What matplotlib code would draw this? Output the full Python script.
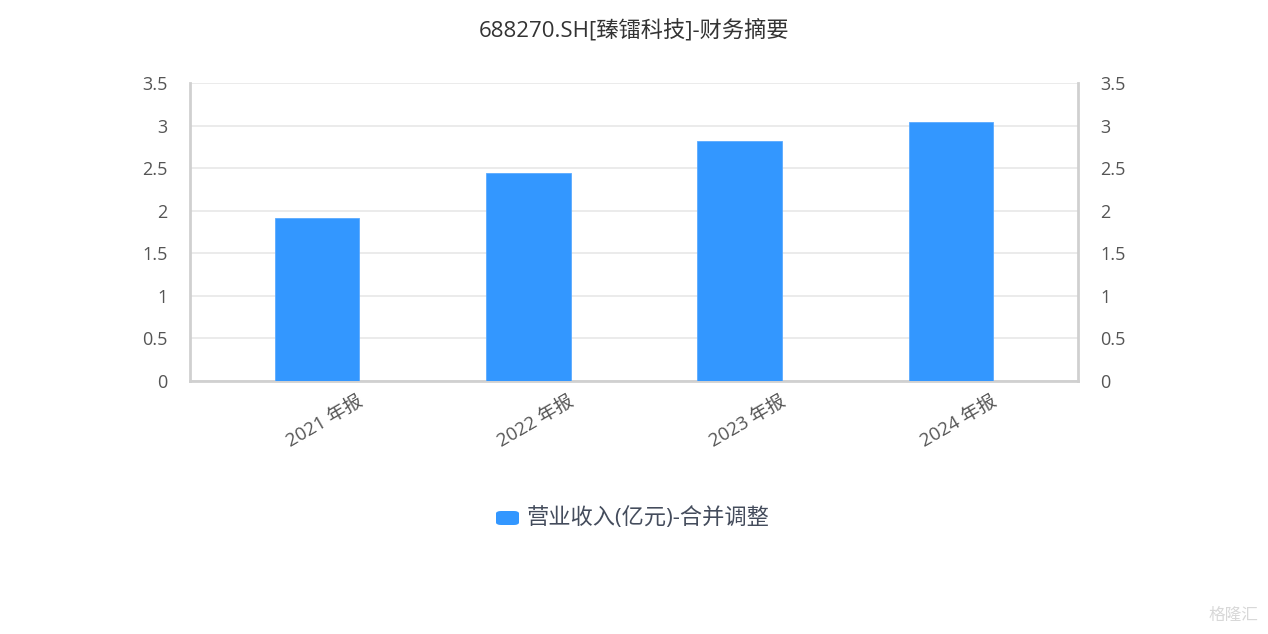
import matplotlib
matplotlib.use('Agg')
import matplotlib.pyplot as plt
import matplotlib.transforms as mtrans
from matplotlib.patches import FancyBboxPatch

plt.rcParams['font.family'] = ['Open Sans', 'Noto Sans CJK SC', 'DejaVu Sans']

# 数据
periods = ['2021 年报', '2022 年报', '2023 年报', '2024 年报']
revenue = [1.92, 2.44, 2.82, 3.04]
yticks = [0, 0.5, 1, 1.5, 2, 2.5, 3, 3.5]
ytick_labels = ['0', '0.5', '1', '1.5', '2', '2.5', '3', '3.5']
series_name = '营业收入(亿元)-合并调整'

bar_color = '#3397ff'
text_color = '#555555'
axis_color = '#d0d0d0'
grid_color = '#e8e8e8'

fig = plt.figure(figsize=(12.68, 6.34), dpi=100)
ax = fig.add_axes([190 / 1268, 1 - 381 / 634, 888 / 1268, 298 / 634])

x = list(range(len(periods)))
bars = ax.bar(x, revenue, width=0.4, color=bar_color, edgecolor='#5aaaff',
              linewidth=0.6, zorder=3)

ax.set_xlim(-0.6, len(periods) - 0.4)
ax.set_ylim(0, 3.5)
ax.set_yticks(yticks)
ax.set_yticklabels(ytick_labels)
ax.set_xticks(x)
ax.set_xticklabels(periods, rotation=30, ha='right', rotation_mode='anchor')
ax.tick_params(axis='both', length=0, labelsize=13, colors=text_color)
ax.tick_params(axis='y', pad=16)
ax.tick_params(axis='x', labelsize=13.5, pad=8)

ax.grid(axis='y', color=grid_color, linewidth=1.2, zorder=0)
ax.set_axisbelow(True)

ax.spines['top'].set_visible(False)
for side in ['left', 'right', 'bottom']:
    ax.spines[side].set_color(axis_color)
    ax.spines[side].set_linewidth(2)

# 右侧坐标轴
ax2 = ax.twinx()
ax2.set_ylim(0, 3.5)
ax2.set_yticks(yticks)
ax2.set_yticklabels(ytick_labels)
ax2.tick_params(axis='y', length=0, labelsize=13, colors=text_color, pad=16)
for side in ['top', 'left', 'bottom', 'right']:
    ax2.spines[side].set_visible(False)

# x标签往右挪，末端大约对准柱子右边
offset = mtrans.ScaledTranslation(0.40, 0, fig.dpi_scale_trans)
for lbl in ax.get_xticklabels():
    lbl.set_transform(lbl.get_transform() + offset)

fig.text(0.5, 1 - 30 / 634, '688270.SH[臻镭科技]-财务摘要', ha='center', va='center',
         fontsize=16, color='#333333')

# 图例：圆角色块 + 文字
leg_y = 1 - 518 / 634
fig.patches.append(FancyBboxPatch((496 / 1268, leg_y - 7 / 634), 23 / 1268, 14 / 634,
                                  boxstyle='round,pad=0,rounding_size=0.004',
                                  transform=fig.transFigure, facecolor=bar_color,
                                  edgecolor='none'))
fig.text(527 / 1268, leg_y, series_name, ha='left', va='center', fontsize=16,
         color='#444c5c')

fig.text(1 - 10 / 1268, 10 / 634, '格隆汇', ha='right', va='bottom', fontsize=12,
         color='#d8d8d8')

fig.savefig('out.png', dpi=100, facecolor='white')
